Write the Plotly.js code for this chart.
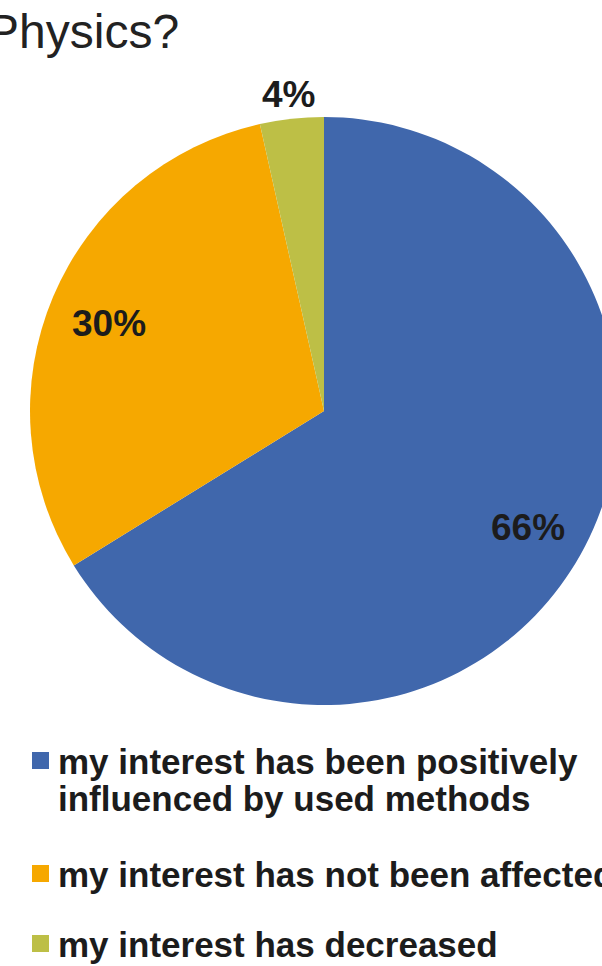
<!DOCTYPE html>
<html>
<head>
<meta charset="utf-8">
<script src="https://cdn.plot.ly/plotly-3.0.1.min.js"></script>
<style>
html,body{margin:0;padding:0;overflow:hidden;background:#fff;width:602px;height:966px;}
#chart{width:700px;height:966px;}
</style>
</head>
<body>
<div id="chart"></div>
<script>
// ---- data ----
var labels = [
  "my interest has been positively<br>influenced by used methods",
  "my interest has not been affected",
  "my interest has decreased"
];
var values = [66.2, 30.3, 3.5];
var colors = ["#4067AC", "#F6A800", "#BDBF46"];
var titleText = "Physics?";

// ---- geometry ----
var W = 700, H = 966;
var cx = 324, cy = 411, R = 294;
function px(x){ return x / W; }
function py(y){ return 1 - y / H; }

var total = values.reduce(function(a,b){return a+b;},0);
var annotations = [];
var shapes = [];
var FONT = "Liberation Sans, Arial, sans-serif";

// percentage labels computed from the data
var cum = 0;
for (var i = 0; i < values.length; i++) {
  var frac = values[i] / total;
  var mid = (cum + frac / 2) * 2 * Math.PI; // clockwise from 12 o'clock
  cum += frac;
  var rr = frac < 0.1 ? 1.095 * R : 0.795 * R;
  var x = cx + rr * Math.sin(mid);
  var y = cy - rr * Math.cos(mid);
  annotations.push({
    xref: "paper", yref: "paper", x: px(x), y: py(y + 3),
    xanchor: "center", yanchor: "middle", showarrow: false,
    text: "<b>" + Math.round(frac * 100) + "%</b>",
    font: {family: FONT, size: 37, color: "#1c1c1c"}
  });
}

// title (cropped at the top-left like the reference)
annotations.push({
  xref: "paper", yref: "paper", x: px(-15), y: py(32),
  xanchor: "left", yanchor: "middle", showarrow: false,
  text: titleText,
  font: {family: FONT, size: 48, color: "#222222"}
});

// legend built from labels/colors, one annotation per text line
var legendBaselines = [773, 886, 956];
var lineGap = 37.5;
var LFS = 35;
for (var j = 0; j < labels.length; j++) {
  var base = legendBaselines[j];
  shapes.push({
    type: "rect", xref: "paper", yref: "paper",
    x0: px(32), x1: px(49), y0: py(base - 4), y1: py(base - 21),
    fillcolor: colors[j], line: {width: 0}
  });
  var lines = labels[j].split("<br>");
  for (var k = 0; k < lines.length; k++) {
    var bl = base + k * lineGap;
    annotations.push({
      xref: "paper", yref: "paper", x: px(56), y: py(bl - 0.33 * LFS),
      xanchor: "left", yanchor: "middle", align: "left", showarrow: false,
      text: "<b>" + lines[k] + "</b>",
      font: {family: FONT, size: LFS, color: "#1c1c1c"}
    });
  }
}

var trace = {
  type: "pie",
  labels: labels,
  values: values,
  marker: {colors: colors, line: {width: 0}},
  sort: false,
  direction: "clockwise",
  rotation: 0,
  textinfo: "none",
  hoverinfo: "none",
  showlegend: false,
  domain: {x: [px(cx - R), px(cx + R)], y: [py(cy + R), py(cy - R)]}
};

var layout = {
  width: W, height: H,
  margin: {l: 0, r: 0, t: 0, b: 0},
  paper_bgcolor: "#ffffff",
  showlegend: false,
  annotations: annotations,
  shapes: shapes
};

Plotly.newPlot("chart", [trace], layout, {staticPlot: true, displayModeBar: false});
</script>
</body>
</html>
